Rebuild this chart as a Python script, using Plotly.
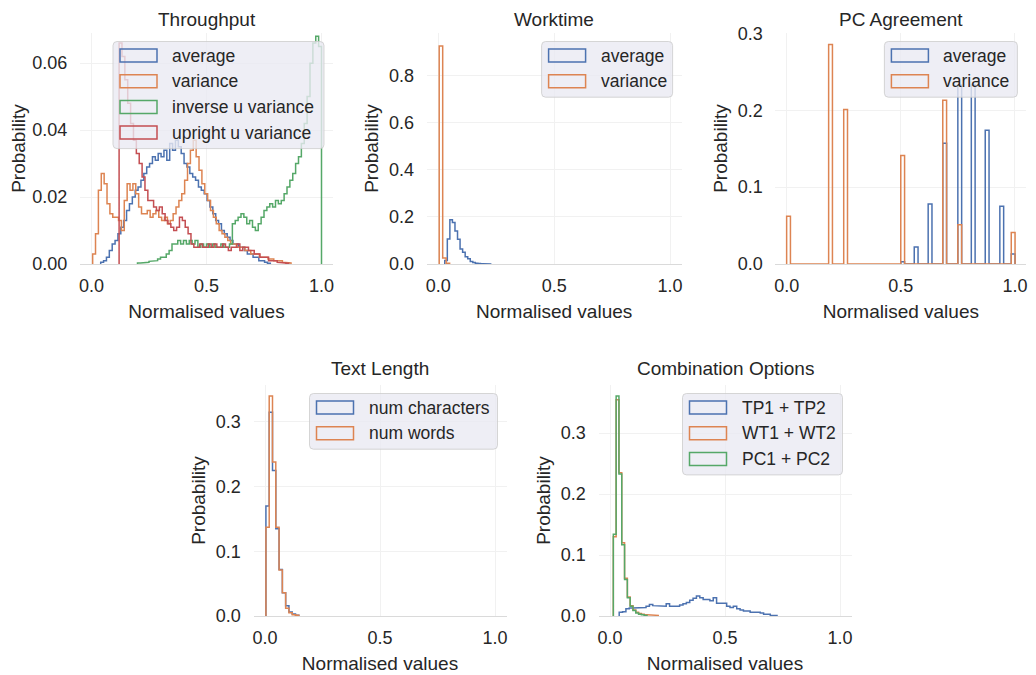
import plotly.graph_objects as go

W, H = 1036, 675
# the page body adds an 8px offset; reference pixel positions are corrected for it
OX, OY = 8, 8
FONT = "Liberation Sans, Arial, sans-serif"
TEXT = "#262626"
BLUE, ORANGE, GREEN, RED = "#4C72B0", "#DD8452", "#55A868", "#C44E52"

# ---------------- data: probability per bin ----------------
# Throughput
tp_average_start, tp_average_width = 0.04, 0.0125
tp_average = [0.0005, 0.001, 0.002, 0.004, 0.006, 0.007, 0.009, 0.011, 0.013, 0.016,
              0.018, 0.020, 0.022, 0.023, 0.025, 0.027, 0.029, 0.030, 0.032, 0.031,
              0.033, 0.032, 0.034, 0.031, 0.036, 0.034, 0.037, 0.035, 0.033, 0.030,
              0.029, 0.027, 0.026, 0.025, 0.023, 0.022, 0.021, 0.019, 0.017, 0.015,
              0.013, 0.012, 0.010, 0.009, 0.008, 0.007, 0.006, 0.006, 0.005, 0.005,
              0.004, 0.003, 0.003, 0.002, 0.002, 0.001, 0.001, 0.0005, 0.0002]
tp_variance_start, tp_variance_width = 0.005, 0.0125
tp_variance = [0.003, 0.009, 0.022, 0.027, 0.024, 0.018, 0.015, 0.014, 0.014, 0.013,
               0.010, 0.019, 0.024, 0.022, 0.024, 0.021, 0.017, 0.015, 0.015, 0.016,
               0.014, 0.015, 0.016, 0.014, 0.013, 0.014, 0.012, 0.013, 0.015, 0.017,
               0.019, 0.021, 0.025, 0.030, 0.034, 0.037, 0.032, 0.028, 0.024, 0.021,
               0.019, 0.016, 0.014, 0.012, 0.010, 0.009, 0.008, 0.007, 0.006, 0.006,
               0.005, 0.005, 0.005, 0.004, 0.004, 0.003, 0.003, 0.003, 0.002, 0.002,
               0.002, 0.0015, 0.0015, 0.001, 0.001, 0.001, 0.0005, 0.0005, 0.0003]
tp_inverse_start, tp_inverse_width = 0.2, 0.0125
tp_inverse = [0.0003, 0.0003, 0.0005, 0.0005, 0.0008, 0.001, 0.001, 0.0015, 0.002, 0.002,
              0.003, 0.004, 0.006, 0.006, 0.007, 0.006, 0.007, 0.006, 0.007, 0.006,
              0.007, 0.005, 0.006, 0.005, 0.006, 0.005, 0.006, 0.005, 0.005, 0.006,
              0.005, 0.005, 0.006, 0.012, 0.013, 0.014, 0.015, 0.014, 0.012, 0.013,
              0.011, 0.010, 0.012, 0.014, 0.016, 0.017, 0.018, 0.017, 0.019, 0.018,
              0.019, 0.021, 0.023, 0.025, 0.027, 0.030, 0.032, 0.036, 0.042, 0.050,
              0.060, 0.066, 0.068, 0.065]
tp_upright_start, tp_upright_width = 0.12, 0.0125
tp_upright = [0.066, 0.062, 0.055, 0.048, 0.042, 0.037, 0.033, 0.030, 0.026, 0.022,
              0.019, 0.019, 0.017, 0.016, 0.017, 0.015, 0.013, 0.012, 0.011, 0.010,
              0.011, 0.014, 0.013, 0.011, 0.009, 0.006, 0.005, 0.005, 0.006, 0.005,
              0.005, 0.006, 0.005, 0.006, 0.005, 0.005, 0.006, 0.005, 0.004, 0.005,
              0.005, 0.006, 0.004, 0.005, 0.005, 0.004, 0.004, 0.003, 0.003, 0.002,
              0.002, 0.002, 0.001, 0.001, 0.001, 0.0005, 0.0005, 0.0003, 0.0002]

# Worktime
wt_average_start, wt_average_width = 0.028, 0.011
wt_average = [0.015, 0.106, 0.188, 0.176, 0.140, 0.105, 0.064, 0.050, 0.031, 0.022,
              0.011, 0.006, 0.003, 0.002, 0.001, 0.001, 0.0005, 0.0003]
wt_variance_start, wt_variance_width = 0.004, 0.015
wt_variance = [0.925, 0.025, 0.003]

# PC Agreement (sparse bars: bin centre and height)
pc_bin_width = 1 / 60
pc_average_x = [0.508, 0.567, 0.628, 0.692, 0.758, 0.817, 0.878, 0.942, 0.992]
pc_average_y = [0.003, 0.022, 0.078, 0.157, 0.233, 0.233, 0.174, 0.075, 0.013]
pc_variance_x = [0.008, 0.192, 0.258, 0.508, 0.692, 0.758, 0.992]
pc_variance_y = [0.062, 0.2855, 0.201, 0.141, 0.213, 0.051, 0.041]

# Text Length
tl_start, tl_width = 0.004, 0.0143
tl_characters = [0.170, 0.315, 0.225, 0.135, 0.072, 0.036, 0.016, 0.006, 0.003, 0.001]
tl_words = [0.137, 0.340, 0.238, 0.137, 0.071, 0.036, 0.012, 0.005, 0.002, 0.001]

# Combination Options
co_tp_start, co_tp_width = 0.04, 0.0146
co_tp = [0.006, 0.007, 0.012, 0.013, 0.013, 0.014, 0.013, 0.014, 0.016, 0.019,
         0.017, 0.016, 0.017, 0.016, 0.020, 0.016, 0.017, 0.016, 0.018, 0.020,
         0.022, 0.026, 0.029, 0.033, 0.030, 0.027, 0.027, 0.025, 0.030, 0.021,
         0.022, 0.021, 0.016, 0.014, 0.016, 0.012, 0.010, 0.008, 0.008, 0.006,
         0.007, 0.006, 0.005, 0.003, 0.003, 0.001, 0.001]
co_wt_start, co_wt_width = 0.0145, 0.0122
co_wt = [0.130, 0.355, 0.235, 0.120, 0.062, 0.031, 0.017, 0.010, 0.006, 0.004,
         0.003, 0.002, 0.002, 0.001, 0.001, 0.001]
co_pc_start, co_pc_width = 0.0145, 0.0122
co_pc = [0.134, 0.361, 0.233, 0.117, 0.060, 0.030, 0.016, 0.009, 0.005, 0.003,
         0.002, 0.001]


def step(start, width, values):
    xs, ys = [start], [0]
    for i, v in enumerate(values):
        left = start + i * width
        xs += [left, left + width]
        ys += [v, v]
    xs.append(xs[-1])
    ys.append(0)
    return xs, ys


def bars(centres, heights, width):
    xs, ys = [], []
    for c, h in zip(centres, heights):
        xs += [c - width / 2, c - width / 2, c + width / 2, c + width / 2]
        ys += [0, h, h, 0]
    return xs, ys


panels = [
    dict(title="Throughput", box=(80, 333, 33, 264), ymax=0.069,
         yticks=[0, 0.02, 0.04, 0.06], yfmt="{:.2f}", legend_w=211,
         series=[("average", BLUE, step(tp_average_start, tp_average_width, tp_average)),
                 ("variance", ORANGE, step(tp_variance_start, tp_variance_width, tp_variance)),
                 ("inverse u variance", GREEN, step(tp_inverse_start, tp_inverse_width, tp_inverse)),
                 ("upright u variance", RED, step(tp_upright_start, tp_upright_width, tp_upright))]),
    dict(title="Worktime", box=(426.7, 681.6, 33, 264), ymax=0.98,
         yticks=[0, 0.2, 0.4, 0.6, 0.8], yfmt="{:.1f}", legend_w=131,
         series=[("average", BLUE, step(wt_average_start, wt_average_width, wt_average)),
                 ("variance", ORANGE, step(wt_variance_start, wt_variance_width, wt_variance))]),
    dict(title="PC Agreement", box=(775.3, 1026.4, 33, 264), ymax=0.3005,
         yticks=[0, 0.1, 0.2, 0.3], yfmt="{:.1f}", legend_w=133,
         series=[("average", BLUE, bars(pc_average_x, pc_average_y, pc_bin_width)),
                 ("variance", ORANGE, bars(pc_variance_x, pc_variance_y, pc_bin_width))]),
    dict(title="Text Length", box=(253.5, 506.5, 385, 616), ymax=0.357,
         yticks=[0, 0.1, 0.2, 0.3], yfmt="{:.1f}", legend_w=188,
         series=[("num characters", BLUE, step(tl_start, tl_width, tl_characters)),
                 ("num words", ORANGE, step(tl_start, tl_width, tl_words))]),
    dict(title="Combination Options", box=(598.5, 851.5, 385, 616), ymax=0.379,
         yticks=[0, 0.1, 0.2, 0.3], yfmt="{:.1f}", legend_w=160,
         series=[("TP1 + TP2", BLUE, step(co_tp_start, co_tp_width, co_tp)),
                 ("WT1 + WT2", ORANGE, step(co_wt_start, co_wt_width, co_wt)),
                 ("PC1 + PC2", GREEN, step(co_pc_start, co_pc_width, co_pc))]),
]


def px(x):
    return (x - OX) / W


def py(y):
    return 1 - (y - OY) / H


fig = go.Figure()
layout = dict(width=W, height=H, margin=dict(l=0, r=0, t=0, b=0),
              paper_bgcolor="white", plot_bgcolor="white", showlegend=False,
              font=dict(family=FONT, color=TEXT))
shapes, annotations = [], []

for k, p in enumerate(panels, start=1):
    sfx = "" if k == 1 else str(k)
    left, right, top, bottom = p["box"]
    for name, color, (xs, ys) in p["series"]:
        fig.add_trace(go.Scatter(x=xs, y=ys, mode="lines", name=name,
                                 line=dict(color=color, width=1.5),
                                 xaxis="x" + sfx, yaxis="y" + sfx, hoverinfo="skip"))
    layout["xaxis" + sfx] = dict(
        domain=[px(left), px(right)], anchor="y" + sfx, range=[-0.05, 1.05],
        tickvals=[0, 0.5, 1], ticktext=["0.0", "0.5", "1.0"],
        ticks="outside", ticklen=5, tickcolor="rgba(0,0,0,0)",
        tickfont=dict(size=18), showgrid=True, gridcolor="#f1f1f1",
        zeroline=False, showline=True, linecolor="#dadada", linewidth=1,
        title=dict(text="Normalised values", font=dict(size=19), standoff=10),
        automargin=False)
    layout["yaxis" + sfx] = dict(
        domain=[py(bottom), py(top)], anchor="x" + sfx, range=[0, p["ymax"]],
        tickvals=p["yticks"], ticktext=[p["yfmt"].format(v) for v in p["yticks"]],
        ticks="outside", ticklen=8, tickcolor="rgba(0,0,0,0)",
        tickfont=dict(size=18), showgrid=True, gridcolor="#f1f1f1",
        zeroline=False, showline=False,
        title=dict(text="Probability", font=dict(size=19), standoff=5),
        automargin=False)
    if top < 100:
        # top row: keep the title box inside the figure
        annotations.append(dict(text=p["title"], x=px((left + right) / 2), y=1,
                                xref="paper", yref="paper", showarrow=False, borderpad=0,
                                xanchor="center", yanchor="top", font=dict(size=19)))
    else:
        annotations.append(dict(text=p["title"], x=px((left + right) / 2), y=py(top - 17),
                                xref="paper", yref="paper", showarrow=False,
                                xanchor="center", yanchor="middle", font=dict(size=19)))

    # legend drawn like matplotlib: rounded translucent box with outlined patches
    n = len(p["series"])
    bx1 = right - 9
    bx0 = bx1 - p["legend_w"]
    by0 = top + 8.5
    by1 = by0 + 30 + (n - 1) * 25.7
    r = 4
    path = (f"M{px(bx0 + r)},{py(by0)} L{px(bx1 - r)},{py(by0)} "
            f"Q{px(bx1)},{py(by0)} {px(bx1)},{py(by0 + r)} L{px(bx1)},{py(by1 - r)} "
            f"Q{px(bx1)},{py(by1)} {px(bx1 - r)},{py(by1)} L{px(bx0 + r)},{py(by1)} "
            f"Q{px(bx0)},{py(by1)} {px(bx0)},{py(by1 - r)} L{px(bx0)},{py(by0 + r)} "
            f"Q{px(bx0)},{py(by0)} {px(bx0 + r)},{py(by0)} Z")
    shapes.append(dict(type="path", path=path, xref="paper", yref="paper", layer="above",
                       fillcolor="rgba(234,234,242,0.8)",
                       line=dict(color="rgba(204,204,204,0.8)", width=1)))
    for i, (name, color, _) in enumerate(p["series"]):
        cy = by0 + 14 + i * 25.7
        shapes.append(dict(type="rect", xref="paper", yref="paper", layer="above",
                           x0=px(bx0 + 7), x1=px(bx0 + 44), y0=py(cy - 6.5), y1=py(cy + 6.5),
                           fillcolor="rgba(0,0,0,0)", line=dict(color=color, width=1.5)))
        annotations.append(dict(text=name, x=px(bx0 + 57), y=py(cy), xref="paper", yref="paper",
                                showarrow=False, xanchor="left", yanchor="middle",
                                font=dict(size=17.5)))

layout["shapes"] = shapes
layout["annotations"] = annotations
fig.update_layout(**layout)
fig.write_html("out.html")
